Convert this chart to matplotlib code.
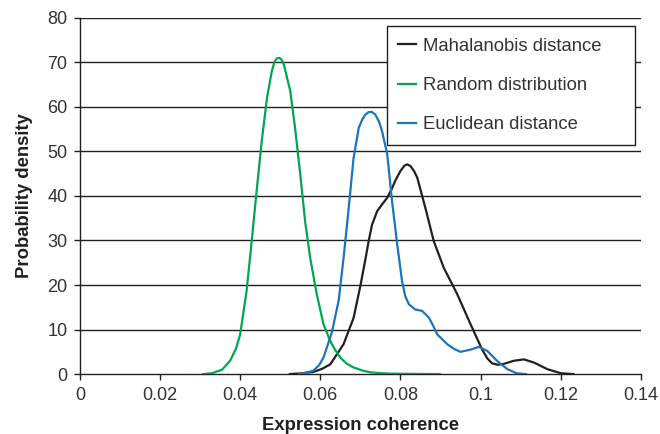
import numpy as np
from matplotlib import pyplot as plt

plt.rcParams['font.family'] = ['Liberation Sans', 'DejaVu Sans']

# Random distribution (green)
rand_x = [0.0307, 0.033, 0.0355, 0.0375, 0.039, 0.040, 0.0416, 0.0429, 0.0441,
          0.0454, 0.0467, 0.0479, 0.0486, 0.0492, 0.0498, 0.0504, 0.0510, 0.0515,
          0.0525, 0.0537, 0.055, 0.0562, 0.0575, 0.0591, 0.0608, 0.0625, 0.0638,
          0.065, 0.0665, 0.0683, 0.0705, 0.0725, 0.075, 0.078, 0.0898]
rand_y = [0.0, 0.2, 1.0, 3.0, 5.8, 8.9, 18.6, 30.0, 41.0,
          52.4, 62.0, 68.0, 70.2, 70.9, 71.0, 70.5, 69.2, 67.3,
          63.6, 55.3, 44.9, 34.4, 26.0, 18.0, 11.2, 7.4, 5.3,
          3.7, 2.4, 1.5, 0.8, 0.4, 0.2, 0.1, 0.0]

# Euclidean distance (blue)
eucl_x = [0.0546, 0.0565, 0.0583, 0.0597, 0.0608, 0.0629, 0.0646, 0.0658, 0.0671,
          0.0683, 0.0696, 0.0705, 0.0712, 0.072, 0.0728, 0.0737, 0.0746, 0.0754,
          0.0767, 0.0779, 0.0792, 0.0804, 0.0812, 0.0821, 0.0837, 0.0854, 0.0871,
          0.0882, 0.0892, 0.0917, 0.0935, 0.095, 0.0975, 0.0996, 0.1017, 0.1042,
          0.1067, 0.109, 0.1113]
eucl_y = [0.0, 0.3, 0.8, 2.0, 3.7, 9.4, 16.6, 26.0, 37.3,
          48.5, 55.3, 57.2, 58.2, 58.8, 58.9, 58.3, 56.8, 54.6,
          49.4, 38.9, 29.1, 20.9, 17.5, 15.7, 14.5, 14.2, 12.7,
          10.8, 8.9, 6.7, 5.6, 5.0, 5.5, 6.1, 5.2, 2.9,
          1.1, 0.2, 0.0]

# Mahalanobis distance (black)
maha_x = [0.0524, 0.0555, 0.0583, 0.0605, 0.0625, 0.0658, 0.0683, 0.070, 0.0712,
          0.0721, 0.0729, 0.0742, 0.0755, 0.0767, 0.0778, 0.0787, 0.080, 0.081,
          0.0817, 0.0825, 0.0834, 0.0842, 0.0862, 0.0883, 0.0908, 0.0942, 0.0975,
          0.1004, 0.1017, 0.1029, 0.1043, 0.1058, 0.1083, 0.1108, 0.1133, 0.1167,
          0.120, 0.1232]
maha_y = [0.0, 0.2, 0.5, 1.2, 2.2, 6.7, 12.6, 19.8, 25.5,
          30.0, 33.5, 36.6, 38.2, 39.6, 41.5, 43.4, 45.6, 46.8,
          47.1, 46.7, 45.6, 44.1, 37.4, 29.9, 23.9, 17.9, 11.2,
          5.5, 3.5, 2.4, 2.1, 2.3, 3.0, 3.3, 2.6, 1.1,
          0.2, 0.0]

x_ticks = [0, 0.02, 0.04, 0.06, 0.08, 0.1, 0.12, 0.14]
x_labels = ['0', '0.02', '0.04', '0.06', '0.08', '0.1', '0.12', '0.14']
y_ticks = [0, 10, 20, 30, 40, 50, 60, 70, 80]

fig = plt.figure(figsize=(6.6, 4.34), dpi=100)
ax = fig.add_axes([0.121, 0.138, 0.850, 0.821])

for yv in y_ticks[1:]:
    ax.axhline(yv, color='#231f20', lw=1.0, zorder=1)

ax.plot(maha_x, maha_y, color='#231f20', lw=1.6, label='Mahalanobis distance', zorder=3)
ax.plot(rand_x, rand_y, color='#00a651', lw=1.6, label='Random distribution', zorder=3)
ax.plot(eucl_x, eucl_y, color='#1b75bc', lw=1.6, label='Euclidean distance', zorder=3)

ax.set_xlim(0, 0.14)
ax.set_ylim(0, 80)
ax.set_xticks(x_ticks)
ax.set_xticklabels(x_labels)
ax.set_yticks(y_ticks)
ax.tick_params(direction='out', length=4.5, width=1, colors='#231f20',
               labelsize=13, labelcolor='#333333', pad=4.5)
for s in ['top', 'right']:
    ax.spines[s].set_visible(False)
for s in ['left', 'bottom']:
    ax.spines[s].set_color('#231f20')
    ax.spines[s].set_linewidth(1.0)

ax.set_xlabel('Expression coherence', fontsize=13.3, fontweight='bold',
              color='#231f20', labelpad=10)
ax.set_ylabel('Probability density', fontsize=13.3, fontweight='bold',
              color='#231f20', labelpad=10)

leg = ax.legend(loc='upper left', bbox_to_anchor=(0.5467, 0.6, 0.4426, 0.3756),
                mode='expand', fontsize=13.3, frameon=True, fancybox=False,
                framealpha=1, edgecolor='#231f20', handlelength=1.0,
                handletextpad=0.35, labelspacing=1.2, borderpad=0.62,
                borderaxespad=0)
leg.get_frame().set_linewidth(1.0)
for t in leg.get_texts():
    t.set_color('#333333')
leg.set_zorder(5)

fig.savefig('out.png', dpi=100)
